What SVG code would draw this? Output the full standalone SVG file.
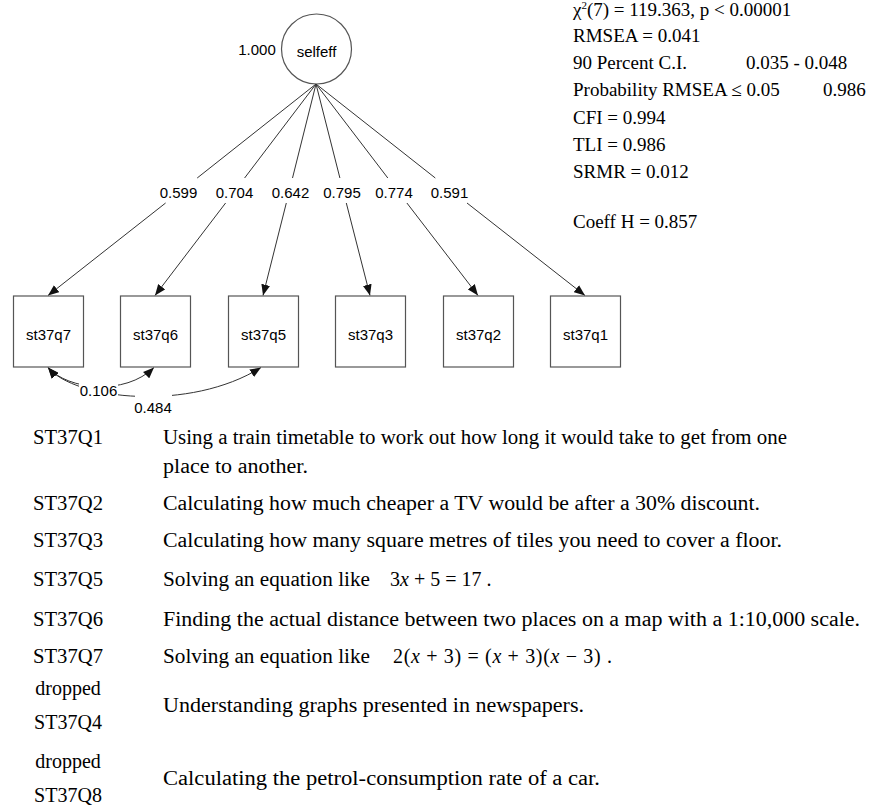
<svg xmlns="http://www.w3.org/2000/svg" width="877" height="805" viewBox="0 0 877 805">
  <style>
    .sans { font-family: "Liberation Sans", Arial, sans-serif; font-size: 15px; fill: #000; }
    .serif { font-family: "Liberation Serif", "Times New Roman", serif; font-size: 19px; fill: #000; }
    .tbl { font-family: "Liberation Serif", "Times New Roman", serif; font-size: 20px; fill: #000; }
    .edge { fill: none; stroke: #333; stroke-width: 1; }
    .box { fill: #fff; stroke: #555; stroke-width: 1.2; }
    .lbg { fill: #fff; stroke: none; }
  </style>
  <defs>
    <marker id="arrow" viewBox="0 0 10 8" refX="10" refY="4" markerWidth="11" markerHeight="9" markerUnits="userSpaceOnUse" orient="auto-start-reverse">
      <path d="M0,0 L10,4 L0,8 Z" fill="#111"/>
    </marker>
  </defs>
  <rect width="877" height="805" fill="#fff"/>

  <!-- latent factor -->
  <g id="selfeff">
    <circle cx="316.5" cy="49" r="35" fill="#fff" stroke="#555" stroke-width="1.2"/>
    <text class="sans" x="316.5" y="57" text-anchor="middle" font-size="16">selfeff</text>
    <text class="sans" x="257" y="55" text-anchor="middle">1.000</text>
  </g>

  <!-- loadings and residual covariances -->
  <g id="connectors">
    <path class="edge" d="M316,84 L197.2,178 M165.6,203 L48,295.5" marker-end="url(#arrow)"/>
    <path class="edge" d="M316,84 L244.6,178 M225.6,203 L155,295.5" marker-end="url(#arrow)"/>
    <path class="edge" d="M316,84 L292.5,178 M286.3,203 L263,295.5" marker-end="url(#arrow)"/>
    <path class="edge" d="M316,84 L339.9,178 M346.3,203 L370,295.5" marker-end="url(#arrow)"/>
    <path class="edge" d="M316,84 L387.8,178 M406.9,203 L478,295.5" marker-end="url(#arrow)"/>
    <path class="edge" d="M316,84 L435.3,178 M467,203 L585,295.5" marker-end="url(#arrow)"/>
    <text class="sans" x="178.5" y="198" text-anchor="middle">0.599</text>
    <text class="sans" x="234.5" y="198" text-anchor="middle">0.704</text>
    <text class="sans" x="290.5" y="198" text-anchor="middle">0.642</text>
    <text class="sans" x="342" y="198" text-anchor="middle">0.795</text>
    <text class="sans" x="394" y="198" text-anchor="middle">0.774</text>
    <text class="sans" x="449.5" y="198" text-anchor="middle">0.591</text>

    <path class="edge" d="M48,367.5 C75,400 190,412 261,367.5" marker-start="url(#arrow)" marker-end="url(#arrow)"/>
    <path class="edge" d="M48,367.5 C68,390 125,396 154,367.5" marker-start="url(#arrow)" marker-end="url(#arrow)"/>
    <rect class="lbg" x="79" y="381" width="39" height="18"/>
    <text class="sans" x="98.5" y="395.5" text-anchor="middle">0.106</text>
    <rect class="lbg" x="135" y="391" width="37" height="24"/>
    <text class="sans" x="153" y="412.5" text-anchor="middle">0.484</text>
  </g>

  <!-- observed items -->
  <g id="st37q7"><rect class="box" x="13.5" y="296" width="70" height="71"/><text class="sans" x="48.5" y="340" text-anchor="middle">st37q7</text></g>
  <g id="st37q6"><rect class="box" x="120.5" y="296" width="70" height="71"/><text class="sans" x="155.5" y="340" text-anchor="middle">st37q6</text></g>
  <g id="st37q5"><rect class="box" x="228.5" y="296" width="70" height="71"/><text class="sans" x="263.5" y="340" text-anchor="middle">st37q5</text></g>
  <g id="st37q3"><rect class="box" x="335.5" y="296" width="70" height="71"/><text class="sans" x="370.5" y="340" text-anchor="middle">st37q3</text></g>
  <g id="st37q2"><rect class="box" x="443.5" y="296" width="70" height="71"/><text class="sans" x="478.5" y="340" text-anchor="middle">st37q2</text></g>
  <g id="st37q1"><rect class="box" x="550.5" y="296" width="70" height="71"/><text class="sans" x="585.5" y="340" text-anchor="middle">st37q1</text></g>

  <!-- fit statistics -->
  <g id="fit">
    <text class="serif" x="573" y="15.5">χ<tspan font-size="11" dy="-6.5">2</tspan><tspan dy="6.5">(7) = 119.363, p &lt; 0.00001</tspan></text>
    <text class="serif" x="573" y="42">RMSEA = 0.041</text>
    <text class="serif" x="573" y="69">90 Percent C.I.</text>
    <text class="serif" x="746" y="69">0.035 - 0.048</text>
    <text class="serif" x="573" y="96">Probability RMSEA ≤ 0.05</text>
    <text class="serif" x="823" y="96">0.986</text>
    <text class="serif" x="573" y="123.5">CFI = 0.994</text>
    <text class="serif" x="573" y="150.5">TLI = 0.986</text>
    <text class="serif" x="573" y="177.5">SRMR = 0.012</text>
    <text class="serif" x="573" y="228">Coeff H = 0.857</text>
  </g>

  <!-- item wording -->
  <g id="items">
    <text class="tbl" x="33" y="444" textLength="70" lengthAdjust="spacingAndGlyphs">ST37Q1</text>
    <text class="tbl" x="163" y="444" textLength="624" lengthAdjust="spacingAndGlyphs">Using a train timetable to work out how long it would take to get from one</text>
    <text class="tbl" x="163" y="473" textLength="145" lengthAdjust="spacingAndGlyphs">place to another.</text>
    <text class="tbl" x="33" y="510" textLength="70" lengthAdjust="spacingAndGlyphs">ST37Q2</text>
    <text class="tbl" x="163" y="510" textLength="597" lengthAdjust="spacingAndGlyphs">Calculating how much cheaper a TV would be after a 30% discount.</text>
    <text class="tbl" x="33" y="547" textLength="70" lengthAdjust="spacingAndGlyphs">ST37Q3</text>
    <text class="tbl" x="163" y="547" textLength="619" lengthAdjust="spacingAndGlyphs">Calculating how many square metres of tiles you need to cover a floor.</text>
    <text class="tbl" x="33" y="586" textLength="70" lengthAdjust="spacingAndGlyphs">ST37Q5</text>
    <text class="tbl" x="163" y="586" textLength="207" lengthAdjust="spacingAndGlyphs">Solving an equation like</text>
    <text class="tbl" x="390" y="586"><tspan>3</tspan><tspan font-style="italic">x</tspan> + 5 = 17 .</text>
    <text class="tbl" x="33" y="626" textLength="70" lengthAdjust="spacingAndGlyphs">ST37Q6</text>
    <text class="tbl" x="163" y="626" textLength="697" lengthAdjust="spacingAndGlyphs">Finding the actual distance between two places on a map with a 1:10,000 scale.</text>
    <text class="tbl" x="33" y="663" textLength="70" lengthAdjust="spacingAndGlyphs">ST37Q7</text>
    <text class="tbl" x="163" y="663" textLength="207" lengthAdjust="spacingAndGlyphs">Solving an equation like</text>
    <text class="tbl" x="393" y="663" textLength="219">2(<tspan font-style="italic">x</tspan> + 3) = (<tspan font-style="italic">x</tspan> + 3)(<tspan font-style="italic">x</tspan> − 3) .</text>
    <text class="tbl" x="68" y="695" text-anchor="middle">dropped</text>
    <text class="tbl" x="68" y="729" text-anchor="middle">ST37Q4</text>
    <text class="tbl" x="163" y="712" textLength="421" lengthAdjust="spacingAndGlyphs">Understanding graphs presented in newspapers.</text>
    <text class="tbl" x="68" y="768" text-anchor="middle">dropped</text>
    <text class="tbl" x="68" y="802" text-anchor="middle">ST37Q8</text>
    <text class="tbl" x="163" y="785" textLength="437" lengthAdjust="spacingAndGlyphs">Calculating the petrol-consumption rate of a car.</text>
  </g>
</svg>
